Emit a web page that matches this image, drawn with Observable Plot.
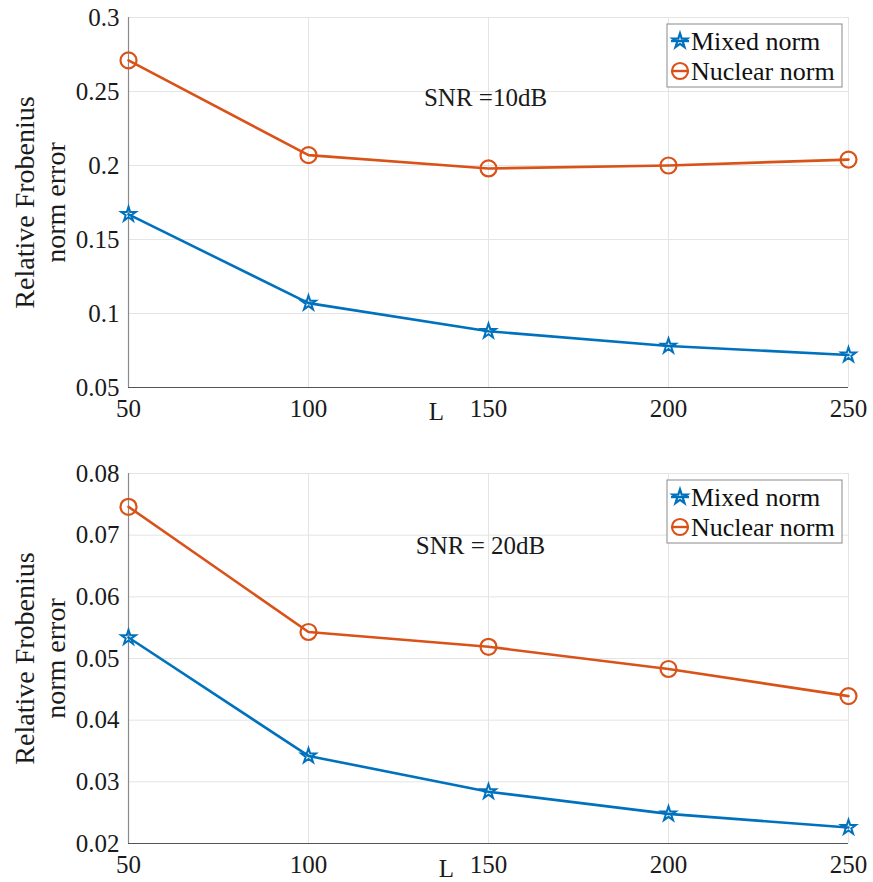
<!DOCTYPE html>
<html>
<head>
<meta charset="utf-8">
<script src="https://cdn.jsdelivr.net/npm/d3@7"></script>
<script src="https://cdn.jsdelivr.net/npm/@observablehq/plot@0.6"></script>
<style>
  html, body { margin: 0; padding: 0; background: #fff; }
  #chart svg { display: block; }
  #chart svg text, #chart svg tspan { font-family: "Liberation Serif", serif; }
</style>
</head>
<body>
<div id="chart"></div>
<script>
const L = [50, 100, 150, 200, 250];
const xTicks = [50, 100, 150, 200, 250];
const seriesNames = ["Mixed norm", "Nuclear norm"];
const seriesColors = ["#0072BD", "#D95319"];
const yLabel = "Relative Frobenius\nnorm error";
const xLabel = "L";

// SNR = 10 dB panel
const mixed10 = [0.167, 0.107, 0.088, 0.078, 0.072];
const nuclear10 = [0.271, 0.207, 0.198, 0.200, 0.204];
const yTicks10 = [0.05, 0.1, 0.15, 0.2, 0.25, 0.3];
const title10 = "SNR =10dB";

// SNR = 20 dB panel
const mixed20 = [0.0534, 0.0342, 0.0284, 0.0248, 0.0226];
const nuclear20 = [0.0746, 0.0543, 0.0519, 0.0483, 0.0439];
const yTicks20 = [0.02, 0.03, 0.04, 0.05, 0.06, 0.07, 0.08];
const title20 = "SNR = 20dB";

const FONT = "Liberation Serif";
const W = 873;
const STAR_R = 4.6, CIRC_R = 8;

function panel({mixed, nuclear, yTicks, title, height, marginTop, marginBottom, titleDx, titleDy, lDx, lDy}) {
  const mRows = L.map((l, i) => ({L: l, v: mixed[i]}));
  const nRows = L.map((l, i) => ({L: l, v: nuclear[i]}));
  const yMin = yTicks[0], yMax = yTicks[yTicks.length - 1];
  const svg = Plot.plot({
    width: W,
    height,
    marginTop,
    marginBottom,
    marginLeft: 128,
    marginRight: 25,
    style: {fontFamily: FONT, fontSize: "25px", color: "#1a1a1a", background: "#fff", overflow: "visible"},
    x: {domain: [xTicks[0], xTicks[xTicks.length - 1]]},
    y: {domain: [yMin, yMax]},
    marks: [
      Plot.gridX(xTicks, {stroke: "#e4e4e4", strokeOpacity: 1, strokeWidth: 1}),
      Plot.gridY(yTicks, {stroke: "#e4e4e4", strokeOpacity: 1, strokeWidth: 1}),
      Plot.ruleX([xTicks[0]], {stroke: "#8a8a8a", strokeWidth: 1.2}),
      Plot.ruleY([yMin], {stroke: "#555", strokeWidth: 1.2}),
      Plot.axisX({ticks: xTicks, tickSize: 0, tickPadding: 12, fontSize: 25, fontFamily: FONT, fontVariant: "normal", tickFormat: d => String(d), label: null}),
      Plot.axisY({ticks: yTicks, tickSize: 0, tickPadding: 9, fontSize: 25, fontFamily: FONT, fontVariant: "normal", tickFormat: d => String(d), label: null}),
      Plot.text([yLabel], {text: d => d, frameAnchor: "left", textAnchor: "middle", rotate: -90, dx: -89, fontSize: 28, fontFamily: FONT, lineAnchor: "middle", lineHeight: 1.12, fill: "#1a1a1a"}),
      Plot.text([xLabel], {text: d => d, frameAnchor: "bottom", dx: lDx, dy: lDy, fontSize: 25, fontFamily: FONT, lineAnchor: "middle", fill: "#1a1a1a"}),
      Plot.text([title], {text: d => d, frameAnchor: "top", dx: titleDx, dy: titleDy, fontSize: 25, fontFamily: FONT, lineAnchor: "middle", fill: "#1a1a1a"}),
      Plot.line(mRows, {x: "L", y: "v", stroke: seriesColors[0], strokeWidth: 2.6}),
      Plot.line(nRows, {x: "L", y: "v", stroke: seriesColors[1], strokeWidth: 2.6}),
      Plot.dot(mRows, {x: "L", y: "v", stroke: seriesColors[0], symbol: "star", fill: "none", r: STAR_R, strokeWidth: 2}),
      Plot.dot(nRows, {x: "L", y: "v", stroke: seriesColors[1], symbol: "circle", fill: "none", r: CIRC_R, strokeWidth: 2.2})
    ]
  });
  // legend box (MATLAB style, top-right inside axes)
  const root = d3.select(svg);
  const frameRight = W - 25;
  const bx = frameRight - 181, by = marginTop + 7, bw = 175, bh = 63;
  const g = root.append("g");
  g.append("rect").attr("x", bx).attr("y", by).attr("width", bw).attr("height", bh)
    .attr("fill", "#fff").attr("stroke", "#8a8a8a").attr("stroke-width", 1);
  seriesNames.forEach((name, i) => {
    const cy = by + 17 + i * 30;
    const sym = i === 0 ? d3.symbolStar : d3.symbolCircle;
    const r = i === 0 ? STAR_R : CIRC_R;
    g.append("line").attr("x1", bx + 4).attr("x2", bx + 22).attr("y1", cy).attr("y2", cy)
      .attr("stroke", seriesColors[i]).attr("stroke-width", 2.4);
    g.append("path").attr("d", d3.symbol(sym, r * r * Math.PI)())
      .attr("transform", `translate(${bx + 13},${cy})`)
      .attr("fill", "none").attr("stroke", seriesColors[i]).attr("stroke-width", 2.2);
    g.append("text").attr("x", bx + 24).attr("y", cy).attr("dy", "0.35em")
      .attr("text-anchor", "start")
      .attr("font-size", 26).attr("font-family", FONT).attr("fill", "#111").text(name);
  });
  return svg;
}

const chart = document.getElementById("chart");
chart.appendChild(panel({mixed: mixed10, nuclear: nuclear10, yTicks: yTicks10, title: title10,
  height: 441, marginTop: 17, marginBottom: 54, titleDx: -3, titleDy: 80, lDx: -52, lDy: 24}));
chart.appendChild(panel({mixed: mixed20, nuclear: nuclear20, yTicks: yTicks20, title: title20,
  height: 441, marginTop: 32, marginBottom: 39, titleDx: -8, titleDy: 72, lDx: -42, lDy: 25}));
</script>
</body>
</html>
